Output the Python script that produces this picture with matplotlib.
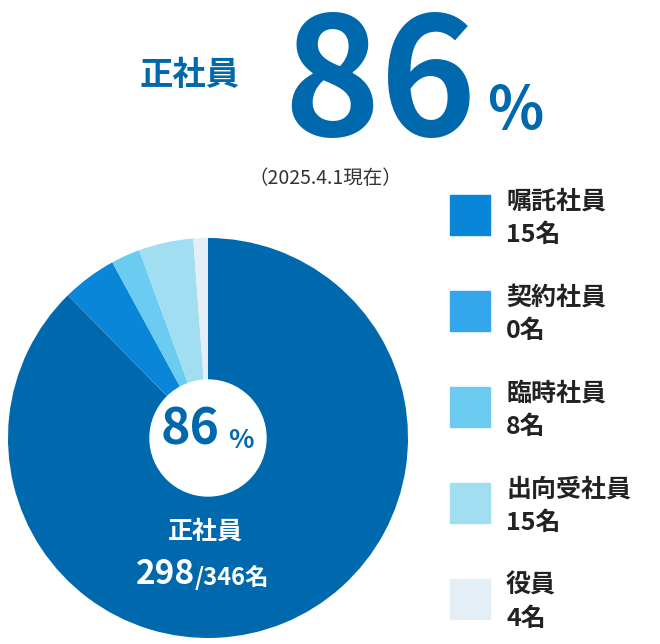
import matplotlib
matplotlib.use("Agg")
from matplotlib import pyplot as plt
from matplotlib.patches import Rectangle, Circle

plt.rcParams['font.family'] = 'Noto Sans CJK JP'

labels = ['正社員', '嘱託社員', '契約社員', '臨時社員', '出向受社員', '役員']
counts = [298, 15, 0, 8, 15, 4]
total = 346
colors = ['#0068ad', '#0a86d8', '#33a6ec', '#6ccbf1', '#a2def2', '#e4eef6']

W, H = 660, 644
fig = plt.figure(figsize=(W / 100, H / 100), dpi=100)

def fx(x): return x / W
def fy(y): return 1 - y / H

# pie, centre (208, 438), radius 200 px
ax = fig.add_axes([fx(8), fy(638), 400 / W, 400 / H])
ax.pie(counts, colors=colors, startangle=90, counterclock=False,
       wedgeprops=dict(linewidth=0))
ax.add_patch(Circle((0, 0), 0.29, color='white'))
ax.set_aspect('equal')
ax.set_xlim(-1, 1)
ax.set_ylim(-1, 1)

dark = '#0068ad'
pct = round(counts[0] / total * 100)

# header
fig.text(fx(190), fy(75), '正社員', fontsize=24, fontweight='heavy', color=dark, ha='center', va='center')
fig.text(fx(380), fy(88), f'{pct}', fontsize=118, fontweight='heavy', color=dark, ha='center', va='center')
fig.text(fx(515), fy(112), '%', fontsize=42, fontweight='heavy', color=dark, ha='center', va='center')
fig.text(fx(325), fy(178), '（2025.4.1現在）', fontsize=14, color='#333333', ha='center', va='center')

# pie centre texts
fig.text(fx(190), fy(430), f'{pct}', fontsize=36, fontweight='heavy', color=dark, ha='center', va='center')
fig.text(fx(228), fy(440), '%', fontsize=19, fontweight='heavy', color=dark, ha='left', va='center')
fig.text(fx(205), fy(532), labels[0], fontsize=18, fontweight='bold', color='white', ha='center', va='center')
fig.text(fx(195), fy(574), f'{counts[0]}', fontsize=24, fontweight='bold', color='white', ha='right', va='center')
fig.text(fx(195), fy(578), f'/{total}名', fontsize=17, fontweight='bold', color='white', ha='left', va='center')

# legend
ys = [215, 311, 407, 503, 599]
for y, lab, c, col in zip(ys, labels[1:], counts[1:], colors[1:]):
    fig.patches.append(Rectangle((fx(450), fy(y + 20)), 40 / W, 40 / H,
                                 transform=fig.transFigure, color=col))
    fig.text(fx(506), fy(y - 13), lab, fontsize=18, fontweight='bold', color='#222222', va='center')
    fig.text(fx(506), fy(y + 20), f'{c}名', fontsize=18, fontweight='bold', color='#222222', va='center')

fig.savefig('out.png', dpi=100)
